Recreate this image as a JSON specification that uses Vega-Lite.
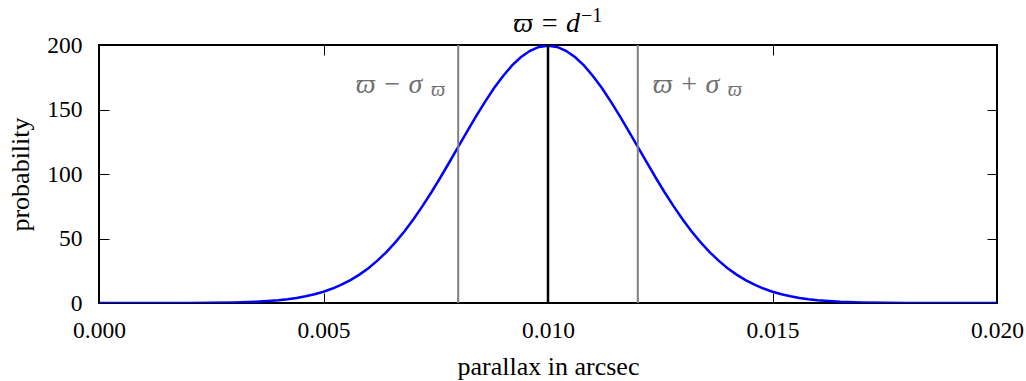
{
  "$schema": "https://vega.github.io/schema/vega-lite/v6.json",
  "width": 898,
  "height": 258,
  "autosize": "none",
  "padding": {"left": 99, "top": 45, "right": 29, "bottom": 78},
  "background": "white",
  "config": {
    "font": "Liberation Serif",
    "view": {"stroke": "black", "strokeWidth": 2},
    "axis": {
      "domain": false, "grid": false, "tickColor": "black", "tickWidth": 1, "tickSize": -10, "labelFlush": false,
      "labelFont": "Liberation Serif", "labelFontSize": 23.5, "labelColor": "black",
      "titleFont": "Liberation Serif", "titleFontSize": 26, "titleFontWeight": "normal", "titleColor": "black"
    }
  },
  "datasets": {
    "curve": [
      {"p": 0, "v": 0}, {"p": 0.001, "v": 0.008}, {"p": 0.002, "v": 0.067}, {"p": 0.0025, "v": 0.18},
      {"p": 0.003, "v": 0.44}, {"p": 0.0035, "v": 1.02}, {"p": 0.004, "v": 2.22}, {"p": 0.0042, "v": 2.98},
      {"p": 0.0044, "v": 3.96}, {"p": 0.0046, "v": 5.21}, {"p": 0.0048, "v": 6.79}, {"p": 0.005, "v": 8.76},
      {"p": 0.0052, "v": 11.2}, {"p": 0.0054, "v": 14.16}, {"p": 0.0056, "v": 17.74}, {"p": 0.0058, "v": 21.99},
      {"p": 0.006, "v": 27.0}, {"p": 0.0062, "v": 32.81}, {"p": 0.0064, "v": 39.47}, {"p": 0.0066, "v": 47.03},
      {"p": 0.0068, "v": 55.46}, {"p": 0.007, "v": 64.76}, {"p": 0.0072, "v": 74.86}, {"p": 0.0074, "v": 85.68},
      {"p": 0.0076, "v": 97.09}, {"p": 0.0078, "v": 108.92}, {"p": 0.008, "v": 120.98}, {"p": 0.0082, "v": 133.04},
      {"p": 0.0084, "v": 144.84}, {"p": 0.0086, "v": 156.13}, {"p": 0.0088, "v": 166.61}, {"p": 0.009, "v": 176.03},
      {"p": 0.0092, "v": 184.14}, {"p": 0.0094, "v": 190.69}, {"p": 0.0096, "v": 195.52}, {"p": 0.0098, "v": 198.48},
      {"p": 0.01, "v": 199.47},
      {"p": 0.0102, "v": 198.48}, {"p": 0.0104, "v": 195.52}, {"p": 0.0106, "v": 190.69}, {"p": 0.0108, "v": 184.14},
      {"p": 0.011, "v": 176.03}, {"p": 0.0112, "v": 166.61}, {"p": 0.0114, "v": 156.13}, {"p": 0.0116, "v": 144.84},
      {"p": 0.0118, "v": 133.04}, {"p": 0.012, "v": 120.98}, {"p": 0.0122, "v": 108.92}, {"p": 0.0124, "v": 97.09},
      {"p": 0.0126, "v": 85.68}, {"p": 0.0128, "v": 74.86}, {"p": 0.013, "v": 64.76}, {"p": 0.0132, "v": 55.46},
      {"p": 0.0134, "v": 47.03}, {"p": 0.0136, "v": 39.47}, {"p": 0.0138, "v": 32.81}, {"p": 0.014, "v": 27.0},
      {"p": 0.0142, "v": 21.99}, {"p": 0.0144, "v": 17.74}, {"p": 0.0146, "v": 14.16}, {"p": 0.0148, "v": 11.2},
      {"p": 0.015, "v": 8.76}, {"p": 0.0152, "v": 6.79}, {"p": 0.0154, "v": 5.21}, {"p": 0.0156, "v": 3.96},
      {"p": 0.0158, "v": 2.98}, {"p": 0.016, "v": 2.22}, {"p": 0.0165, "v": 1.02}, {"p": 0.017, "v": 0.44},
      {"p": 0.0175, "v": 0.18}, {"p": 0.018, "v": 0.067}, {"p": 0.019, "v": 0.008}, {"p": 0.02, "v": 0}
    ]
  },
  "layer": [
    {
      "data": {"name": "curve"},
      "mark": {"type": "line", "strokeOpacity": 0},
      "encoding": {
        "x": {"field": "p", "type": "quantitative", "scale": {"domain": [0, 0.02], "nice": false, "zero": false},
              "axis": {"orient": "top", "labels": false, "title": null, "values": [0, 0.005, 0.01, 0.015, 0.02]}},
        "y": {"field": "v", "type": "quantitative", "scale": {"domain": [0, 200], "nice": false},
              "axis": {"orient": "right", "labels": false, "title": null, "values": [0, 50, 100, 150, 200]}}
      }
    },
    {
      "data": {"name": "curve"},
      "mark": {"type": "line", "color": "#0000ff", "strokeWidth": 2.5, "clip": true},
      "encoding": {
        "x": {"field": "p", "type": "quantitative",
              "axis": {"orient": "bottom", "title": "parallax in arcsec", "format": ".3f", "values": [0, 0.005, 0.01, 0.015, 0.02], "labelPadding": 25, "titlePadding": 12}},
        "y": {"field": "v", "type": "quantitative",
              "axis": {"orient": "left", "title": "probability", "values": [0, 50, 100, 150, 200], "labelPadding": 27, "titlePadding": 13}}
      }
    },
    {
      "data": {"values": [{"p": 0.008}, {"p": 0.012}]},
      "mark": {"type": "rule", "color": "#808080", "strokeWidth": 2},
      "encoding": {"x": {"field": "p", "type": "quantitative", "axis": null}}
    },
    {
      "data": {"values": [{"p": 0.01}]},
      "mark": {"type": "rule", "color": "black", "strokeWidth": 2.5},
      "encoding": {"x": {"field": "p", "type": "quantitative", "axis": null}}
    },
    {
      "data": {"values": [{"p": 0.01, "v": 200, "t": "ϖ = d"}]},
      "mark": {"type": "text", "align": "right", "baseline": "alphabetic", "fontSize": 28, "fontStyle": "italic", "color": "black", "dx": 32, "dy": -13},
      "encoding": {"x": {"field": "p", "type": "quantitative", "axis": null}, "y": {"field": "v", "type": "quantitative", "axis": null}, "text": {"field": "t"}}
    },
    {
      "data": {"values": [{"p": 0.01, "v": 200, "t": "−1"}]},
      "mark": {"type": "text", "align": "left", "baseline": "alphabetic", "fontSize": 20, "color": "black", "dx": 33, "dy": -23},
      "encoding": {"x": {"field": "p", "type": "quantitative", "axis": null}, "y": {"field": "v", "type": "quantitative", "axis": null}, "text": {"field": "t"}}
    },
    {
      "data": {"values": [{"p": 0.008, "v": 163, "t": "ϖ − σ"}]},
      "mark": {"type": "text", "align": "right", "baseline": "alphabetic", "fontSize": 28, "fontStyle": "italic", "color": "#707070", "dx": -36},
      "encoding": {"x": {"field": "p", "type": "quantitative", "axis": null}, "y": {"field": "v", "type": "quantitative", "axis": null}, "text": {"field": "t"}}
    },
    {
      "data": {"values": [{"p": 0.008, "v": 163, "t": "ϖ"}]},
      "mark": {"type": "text", "align": "right", "baseline": "alphabetic", "fontSize": 20, "fontStyle": "italic", "color": "#707070", "dx": -13, "dy": 3},
      "encoding": {"x": {"field": "p", "type": "quantitative", "axis": null}, "y": {"field": "v", "type": "quantitative", "axis": null}, "text": {"field": "t"}}
    },
    {
      "data": {"values": [{"p": 0.012, "v": 163, "t": "ϖ + σ"}]},
      "mark": {"type": "text", "align": "left", "baseline": "alphabetic", "fontSize": 28, "fontStyle": "italic", "color": "#707070", "dx": 15},
      "encoding": {"x": {"field": "p", "type": "quantitative", "axis": null}, "y": {"field": "v", "type": "quantitative", "axis": null}, "text": {"field": "t"}}
    },
    {
      "data": {"values": [{"p": 0.012, "v": 163, "t": "ϖ"}]},
      "mark": {"type": "text", "align": "right", "baseline": "alphabetic", "fontSize": 20, "fontStyle": "italic", "color": "#707070", "dx": 104, "dy": 3},
      "encoding": {"x": {"field": "p", "type": "quantitative", "axis": null}, "y": {"field": "v", "type": "quantitative", "axis": null}, "text": {"field": "t"}}
    }
  ],
  "resolve": {"axis": {"x": "independent", "y": "independent"}}
}
